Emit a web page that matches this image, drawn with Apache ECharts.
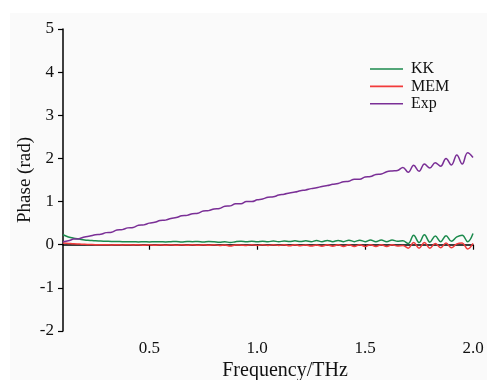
<!DOCTYPE html>
<html>
<head>
<meta charset="utf-8">
<script src="https://cdn.jsdelivr.net/npm/echarts@6/dist/echarts.min.js"></script>
<style>
  html, body { margin: 0; padding: 0; background: #fff; }
  #chart { width: 492px; height: 380px; }
</style>
</head>
<body>
<div id="chart"></div>
<script>
// frequency (THz)
var freq = [
  0.100, 0.125, 0.150, 0.175, 0.200, 0.225, 0.250, 0.275, 0.300, 0.325,
  0.350, 0.375, 0.400, 0.425, 0.450, 0.475, 0.500, 0.525, 0.550, 0.575,
  0.600, 0.625, 0.650, 0.675, 0.700, 0.725, 0.750, 0.775, 0.800, 0.825,
  0.850, 0.875, 0.900, 0.925, 0.950, 0.975, 1.000, 1.025, 1.050, 1.075,
  1.100, 1.125, 1.150, 1.175, 1.200, 1.225, 1.250, 1.275, 1.300, 1.325,
  1.350, 1.375, 1.400, 1.425, 1.450, 1.475, 1.500, 1.525, 1.550, 1.575,
  1.600, 1.625, 1.650, 1.675, 1.700, 1.725, 1.750, 1.775, 1.800, 1.825,
  1.850, 1.875, 1.900, 1.925, 1.950, 1.975, 2.000
];

var kk = [
  0.23, 0.18, 0.15, 0.13, 0.11, 0.10, 0.09, 0.085, 0.08, 0.075,
  0.075, 0.07, 0.07, 0.07, 0.065, 0.07, 0.065, 0.07, 0.07, 0.065,
  0.07, 0.075, 0.065, 0.075, 0.07, 0.075, 0.065, 0.075, 0.07, 0.06,
  0.07, 0.05, 0.07, 0.08, 0.07, 0.08, 0.07, 0.08, 0.07, 0.085,
  0.07, 0.085, 0.075, 0.09, 0.075, 0.09, 0.07, 0.095, 0.07, 0.10,
  0.07, 0.10, 0.07, 0.105, 0.07, 0.105, 0.07, 0.11, 0.07, 0.11,
  0.07, 0.11, 0.08, 0.09, 0.03, 0.22, 0.05, 0.23, 0.06, 0.20,
  0.07, 0.21, 0.08, 0.18, 0.22, 0.07, 0.26
];

var mem = [
  0.04, 0.03, 0.02, 0.015, 0.01, 0.005, 0.0, 0.0, 0.0, -0.005,
  0.0, -0.005, 0.0, -0.005, 0.0, -0.01, 0.0, -0.01, 0.0, -0.01,
  0.0, -0.01, 0.0, -0.015, 0.0, -0.015, 0.0, -0.015, 0.0, -0.02,
  -0.005, -0.03, -0.005, -0.01, -0.02, 0.0, -0.02, 0.0, -0.02, 0.0,
  -0.02, 0.0, -0.025, 0.0, -0.025, -0.005, -0.03, -0.005, -0.035, 0.0,
  -0.035, 0.0, -0.04, 0.0, -0.04, 0.0, -0.04, 0.0, -0.04, 0.0,
  -0.04, 0.0, -0.03, -0.02, -0.08, 0.05, -0.08, 0.05, -0.08, 0.03,
  -0.07, 0.04, -0.07, 0.02, 0.04, -0.10, 0.03
];

var exp = [
  0.07, 0.09, 0.13, 0.14, 0.18, 0.20, 0.23, 0.24, 0.28, 0.29,
  0.34, 0.35, 0.39, 0.40, 0.45, 0.46, 0.50, 0.52, 0.56, 0.57,
  0.61, 0.63, 0.67, 0.68, 0.72, 0.73, 0.78, 0.79, 0.83, 0.84,
  0.89, 0.90, 0.95, 0.95, 1.00, 1.00, 1.04, 1.06, 1.10, 1.11,
  1.15, 1.17, 1.20, 1.22, 1.25, 1.27, 1.30, 1.32, 1.35, 1.37,
  1.40, 1.42, 1.46, 1.47, 1.52, 1.52, 1.57, 1.58, 1.63, 1.64,
  1.69, 1.71, 1.72, 1.79, 1.68, 1.84, 1.70, 1.87, 1.78, 1.90,
  1.82, 2.00, 1.85, 2.08, 1.87, 2.13, 2.02
];

var xTicks = [0.5, 1.0, 1.5, 2.0];

function pairs(ys) {
  return freq.map(function (f, i) { return [f, ys[i]]; });
}

var chart = echarts.init(document.getElementById('chart'));
var font = 'Liberation Serif';

var option = {
  animation: false,
  color: ['#1b8a4c', '#f23b3b', '#7a2f96'],
  graphic: [{
    type: 'rect',
    z: -10,
    shape: { x: 10, y: 13, width: 477, height: 367 },
    style: { fill: '#fafafa' }
  }],
  grid: {
    left: 63,
    right: 19,
    top: 29,
    bottom: 49,
    containLabel: false,
    outerBoundsMode: 'none'
  },
  legend: {
    left: 370,
    top: 61,
    padding: 0,
    orient: 'vertical',
    icon: 'path://M0,0 L33,0 L33,1.6 L0,1.6 Z',
    itemWidth: 33,
    itemHeight: 14,
    itemGap: 1.4,
    textStyle: {
      fontFamily: font,
      fontSize: 16,
      color: '#111',
      lineHeight: 14,
      padding: [0, 0, 0, 3]
    },
    data: ['KK', 'MEM', 'Exp']
  },
  xAxis: {
    type: 'value',
    min: 0.1,
    max: 2.0,
    name: 'Frequency/THz',
    nameLocation: 'middle',
    nameGap: 30,
    nameMoveOverlap: false,
    nameTextStyle: {
      fontFamily: font,
      fontSize: 20,
      color: '#111',
      padding: [0, 0, 0, 34]
    },
    axisLine: { lineStyle: { color: '#000', width: 1.5 } },
    axisTick: {
      show: true,
      length: 5,
      customValues: xTicks,
      lineStyle: { color: '#000', width: 1.2 }
    },
    axisLabel: {
      customValues: xTicks,
      margin: 9,
      fontFamily: font,
      fontSize: 17,
      color: '#111',
      formatter: function (v) { return v.toFixed(1); }
    },
    splitLine: { show: false }
  },
  yAxis: {
    type: 'value',
    min: -2,
    max: 5,
    interval: 1,
    name: 'Phase (rad)',
    nameLocation: 'middle',
    nameGap: 28,
    nameMoveOverlap: false,
    nameTextStyle: {
      fontFamily: font,
      fontSize: 19,
      color: '#111'
    },
    axisLine: { show: true, lineStyle: { color: '#000', width: 1.5 } },
    axisTick: { show: true, length: 5, lineStyle: { color: '#000', width: 1.2 } },
    axisLabel: {
      margin: 9,
      fontFamily: font,
      fontSize: 17,
      color: '#111'
    },
    splitLine: { show: false }
  },
  series: [
    {
      name: 'KK',
      type: 'line',
      data: pairs(kk),
      symbol: 'none',
      smooth: 0.4,
      lineStyle: { width: 1.5 },
      z: 3
    },
    {
      name: 'MEM',
      type: 'line',
      data: pairs(mem),
      symbol: 'none',
      smooth: 0.4,
      lineStyle: { width: 1.5 },
      z: 2
    },
    {
      name: 'Exp',
      type: 'line',
      data: pairs(exp),
      symbol: 'none',
      smooth: 0.4,
      lineStyle: { width: 1.5 },
      z: 4
    }
  ]
};

chart.setOption(option);
</script>
</body>
</html>
